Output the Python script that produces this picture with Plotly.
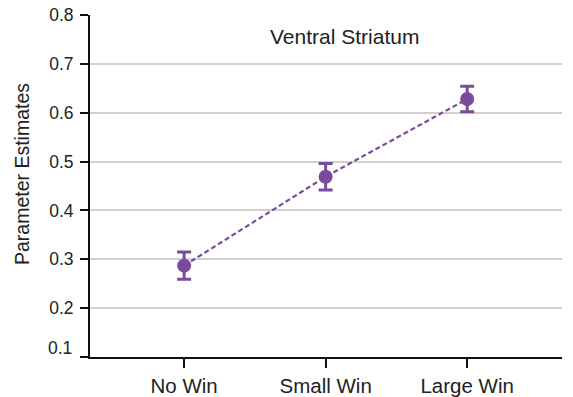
import plotly.graph_objects as go

conditions = ["No Win", "Small Win", "Large Win"]
estimates = [0.287, 0.469, 0.628]
errors = [0.028, 0.027, 0.026]
y_ticks = [0.1, 0.2, 0.3, 0.4, 0.5, 0.6, 0.7, 0.8]

purple = "#7a4a9c"
font_family = "Liberation Sans, Arial, sans-serif"

fig = go.Figure()
fig.add_trace(go.Scatter(
    x=[0, 1, 2], y=estimates,
    mode="lines",
    line=dict(color=purple, width=2.2, dash="5px,3px"),
    hoverinfo="skip", showlegend=False,
))
fig.add_trace(go.Scatter(
    x=[0, 1, 2], y=estimates,
    mode="markers",
    marker=dict(color=purple, size=14),
    error_y=dict(type="data", array=errors, color=purple, thickness=3, width=7),
    showlegend=False,
))

# the lowest tick label sits slightly above the x axis line
tick_text = [f"{v:.1f}" for v in y_ticks]
tick_text[0] = ""

fig.update_layout(
    width=573, height=397,
    margin=dict(l=90, r=11, t=15, b=40),
    plot_bgcolor="white", paper_bgcolor="white",
    font=dict(family=font_family, color="#222", size=17),
    xaxis=dict(
        range=[-0.665, 2.67],
        tickvals=[0, 1, 2], ticktext=conditions,
        showline=True, linecolor="#111", linewidth=2,
        ticks="outside", ticklen=9, tickwidth=2, tickcolor="#111",
        showgrid=False, zeroline=False, automargin=False,
        tickfont=dict(size=20.5),
    ),
    yaxis=dict(
        range=[0.1, 0.8], tickvals=y_ticks, ticktext=tick_text,
        showline=True, linecolor="#111", linewidth=2,
        ticks="outside", ticklen=8, tickwidth=2, tickcolor="#111",
        ticklabelstandoff=3,
        showgrid=True, gridcolor="#d0d0d0", gridwidth=1.5,
        zeroline=False, automargin=False,
        tickfont=dict(size=17.5),
    ),
    annotations=[
        dict(
            text="Ventral Striatum", x=0.539, y=0.936, xref="paper", yref="paper",
            xanchor="center", yanchor="middle", showarrow=False,
            font=dict(size=21, color="#222"),
        ),
        dict(
            text="Parameter Estimates", x=(22 - 90) / 472, y=0.535,
            xref="paper", yref="paper",
            xanchor="center", yanchor="middle", showarrow=False, textangle=-90,
            font=dict(size=19.5, color="#222"),
        ),
        dict(
            text=f"{y_ticks[0]:.1f}", x=(74 - 90) / 472, y=y_ticks[0],
            xref="paper", yref="y", yshift=9,
            xanchor="right", yanchor="middle", showarrow=False,
            font=dict(size=17.5, color="#222"),
        ),
    ],
    shapes=[dict(
        type="line", xref="paper", yref="paper",
        x0=-8 / 472, x1=0, y0=0, y1=0,
        line=dict(color="#111", width=2),
    )],
)

fig.write_html("out.html")
